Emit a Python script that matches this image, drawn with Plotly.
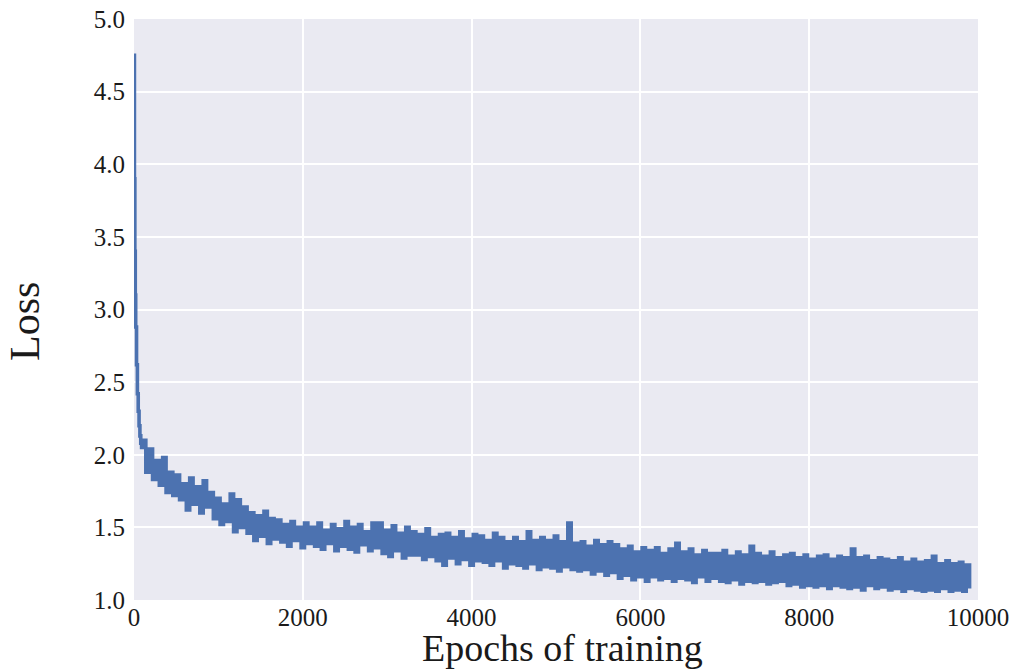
import plotly.graph_objects as go

# Early steep drop (epoch, loss)
early_epochs = [0, 5, 10, 15, 20, 30, 40, 50, 60, 70, 80, 90]
early_loss = [4.75, 3.9, 3.4, 3.1, 2.88, 2.62, 2.42, 2.3, 2.2, 2.13, 2.08, 2.05]

# Sampled epochs every 40 from 100 to 9900
sampled_epochs = list(range(100, 9901, 40))
sampled_loss = [
    2.10, 1.88, 2.04, 1.83, 1.96, 1.79, 1.98, 1.74, 1.88, 1.72,
    1.86, 1.69, 1.80, 1.62, 1.84, 1.66, 1.78, 1.60, 1.82, 1.64,
    1.74, 1.56, 1.70, 1.52, 1.66, 1.54, 1.73, 1.47, 1.69, 1.50,
    1.64, 1.46, 1.60, 1.41, 1.58, 1.44, 1.61, 1.39, 1.56, 1.42,
    1.55, 1.40, 1.52, 1.37, 1.54, 1.41, 1.50, 1.36, 1.53, 1.39,
    1.50, 1.37, 1.53, 1.35, 1.48, 1.39, 1.52, 1.34, 1.49, 1.37,
    1.54, 1.35, 1.50, 1.33, 1.52, 1.38, 1.47, 1.34, 1.53, 1.36,
    1.53, 1.32, 1.48, 1.30, 1.51, 1.34, 1.46, 1.29, 1.50, 1.31,
    1.47, 1.31, 1.45, 1.28, 1.49, 1.30, 1.43, 1.27, 1.45, 1.24,
    1.46, 1.29, 1.43, 1.25, 1.47, 1.28, 1.42, 1.24, 1.45, 1.27,
    1.44, 1.26, 1.41, 1.24, 1.46, 1.27, 1.43, 1.22, 1.40, 1.25,
    1.43, 1.24, 1.40, 1.22, 1.47, 1.25, 1.41, 1.21, 1.43, 1.23,
    1.41, 1.22, 1.44, 1.20, 1.40, 1.23, 1.53, 1.21, 1.39, 1.20,
    1.40, 1.21, 1.37, 1.18, 1.41, 1.20, 1.38, 1.17, 1.40, 1.19,
    1.38, 1.15, 1.35, 1.17, 1.37, 1.14, 1.33, 1.16, 1.36, 1.13,
    1.34, 1.16, 1.36, 1.14, 1.32, 1.15, 1.35, 1.13, 1.39, 1.15,
    1.33, 1.14, 1.35, 1.12, 1.31, 1.16, 1.34, 1.13, 1.32, 1.15,
    1.32, 1.13, 1.34, 1.12, 1.30, 1.14, 1.33, 1.11, 1.31, 1.13,
    1.37, 1.12, 1.32, 1.13, 1.30, 1.11, 1.33, 1.12, 1.29, 1.13,
    1.31, 1.10, 1.32, 1.11, 1.29, 1.09, 1.31, 1.10, 1.28, 1.09,
    1.30, 1.10, 1.31, 1.08, 1.28, 1.10, 1.30, 1.09, 1.29, 1.08,
    1.35, 1.09, 1.29, 1.07, 1.30, 1.10, 1.27, 1.08, 1.29, 1.09,
    1.28, 1.07, 1.27, 1.08, 1.29, 1.06, 1.26, 1.08, 1.28, 1.07,
    1.26, 1.06, 1.27, 1.07, 1.30, 1.06, 1.25, 1.08, 1.27, 1.06,
    1.25, 1.07, 1.26, 1.06, 1.24, 1.08,
]

epochs = early_epochs + sampled_epochs
loss = early_loss + sampled_loss

x_ticks = [0, 2000, 4000, 6000, 8000, 10000]
y_ticks = [1.0, 1.5, 2.0, 2.5, 3.0, 3.5, 4.0, 4.5, 5.0]

FONT = "Liberation Serif"
TXT = "#1a1a1a"

PLOT_TOP, PLOT_BOTTOM, PLOT_LEFT, PLOT_RIGHT = 19, 600, 134, 978
PH = PLOT_BOTTOM - PLOT_TOP
PW = PLOT_RIGHT - PLOT_LEFT

fig = go.Figure()
fig.add_trace(go.Scatter(
    x=epochs, y=loss, mode="lines",
    line=dict(color="#4C72B0", width=3.6, shape="hv", simplify=False),
    showlegend=False,
))

fig.update_layout(
    width=1010, height=669,
    margin=dict(l=PLOT_LEFT, r=1010 - PLOT_RIGHT, t=PLOT_TOP, b=669 - PLOT_BOTTOM),
    paper_bgcolor="white",
    plot_bgcolor="#EAEAF2",
    font=dict(family=FONT, color=TXT),
    xaxis=dict(
        range=[0, 10000], tickvals=x_ticks, ticktext=[str(v) for v in x_ticks],
        showgrid=True, gridcolor="white", gridwidth=1.5, zeroline=False,
        showline=False, ticks="", ticklabelstandoff=0,
        tickfont=dict(family=FONT, size=25, color=TXT),
        automargin=False,
    ),
    yaxis=dict(
        range=[1.0, 5.0], tickvals=y_ticks, ticktext=[f"{v:.1f}" for v in y_ticks],
        showgrid=True, gridcolor="white", gridwidth=1.5, zeroline=False,
        showline=False, ticks="", ticklabelstandoff=8,
        tickfont=dict(family=FONT, size=25, color=TXT),
        automargin=False,
    ),
    annotations=[
        dict(
            text="Loss", textangle=-90, showarrow=False,
            xref="paper", yref="paper",
            x=(25 - PLOT_LEFT) / PW, y=(PLOT_BOTTOM - 322) / PH,
            xanchor="center", yanchor="middle",
            font=dict(family=FONT, size=42, color=TXT),
        ),
        dict(
            text="Epochs of training", showarrow=False,
            xref="paper", yref="paper",
            x=(562 - PLOT_LEFT) / PW, y=(PLOT_BOTTOM - 625) / PH,
            xanchor="center", yanchor="top",
            font=dict(family=FONT, size=38, color=TXT),
        ),
    ],
)

fig.write_html("out.html")
